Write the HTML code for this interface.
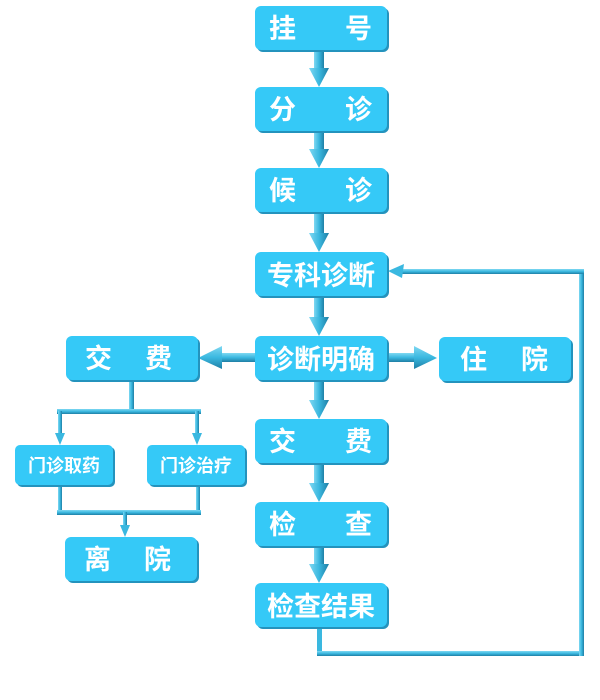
<!DOCTYPE html>
<html><head><meta charset="utf-8"><style>
html,body{margin:0;padding:0;background:#fff;}
svg{display:block}
text{font-family:"Liberation Sans","Noto Sans CJK SC",sans-serif;font-weight:bold;fill:#fff;}
</style></head><body>
<svg width="600" height="700" viewBox="0 0 600 700" xmlns="http://www.w3.org/2000/svg">
<defs>
<linearGradient id="sh" x1="0" x2="1"><stop offset="0" stop-color="#7fd8f2"/><stop offset="0.5" stop-color="#3ab8e0"/><stop offset="1" stop-color="#1f7fa5"/></linearGradient>
<linearGradient id="sv" x1="0" x2="0" y1="0" y2="1"><stop offset="0" stop-color="#7fd8f2"/><stop offset="0.5" stop-color="#3ab8e0"/><stop offset="1" stop-color="#1f7fa5"/></linearGradient>
</defs>
<g>
<rect x="314" y="50" width="10" height="24" fill="url(#sh)"/><polygon points="309,68 329,68 319,87" fill="url(#sh)"/>
<rect x="314" y="131" width="10" height="24" fill="url(#sh)"/><polygon points="309,149 329,149 319,168" fill="url(#sh)"/>
<rect x="314" y="212" width="10" height="27" fill="url(#sh)"/><polygon points="309,233 329,233 319,252" fill="url(#sh)"/>
<rect x="314" y="296" width="10" height="27" fill="url(#sh)"/><polygon points="309,317 329,317 319,336" fill="url(#sh)"/>
<rect x="314" y="380" width="10" height="26" fill="url(#sh)"/><polygon points="309,400 329,400 319,419" fill="url(#sh)"/>
<rect x="314" y="463" width="10" height="26" fill="url(#sh)"/><polygon points="309,483 329,483 319,502" fill="url(#sh)"/>
<rect x="314" y="546" width="10" height="24" fill="url(#sh)"/><polygon points="309,564 329,564 319,583" fill="url(#sh)"/>
</g>
<rect x="220" y="353" width="35" height="9" fill="url(#sv)"/><polygon points="198,358 222,346 222,369" fill="url(#sv)"/>
<rect x="387" y="353" width="30" height="9" fill="url(#sv)"/><polygon points="437,358 414,346 414,369" fill="url(#sv)"/>
<rect x="317" y="627" width="5" height="28" fill="#3ab8e0"/>
<rect x="317" y="651" width="267" height="5" fill="url(#sv)"/>
<rect x="579" y="269" width="5" height="387" fill="url(#sh)"/>
<rect x="400" y="269" width="184" height="5" fill="url(#sv)"/>
<polygon points="388,271 404,264 402,278" fill="#3ab8e0"/>
<rect x="129" y="380" width="5" height="31" fill="url(#sh)"/>
<rect x="57" y="409" width="144" height="5" fill="url(#sv)"/>
<rect x="58" y="411" width="4" height="24" fill="url(#sh)"/><polygon points="55,433 65,433 60,445" fill="#3ab8e0"/>
<rect x="195" y="411" width="4" height="24" fill="url(#sh)"/><polygon points="192,433 202,433 197,445" fill="#3ab8e0"/>
<rect x="58" y="485" width="4" height="27" fill="url(#sh)"/>
<rect x="196" y="485" width="4" height="27" fill="url(#sh)"/>
<rect x="57" y="510" width="144" height="5" fill="url(#sv)"/>
<rect x="123" y="512" width="4" height="15" fill="url(#sh)"/><polygon points="120,525 130,525 125,537" fill="#3ab8e0"/>
<g>
<g fill="#2493bd">
<rect x="257" y="8" width="132" height="44" rx="6"/><rect x="257" y="89" width="132" height="44" rx="6"/>
<rect x="257" y="170" width="132" height="44" rx="6"/><rect x="257" y="254" width="132" height="44" rx="6"/>
<rect x="257" y="338" width="132" height="44" rx="6"/><rect x="257" y="421" width="132" height="44" rx="6"/>
<rect x="257" y="504" width="132" height="44" rx="6"/><rect x="257" y="585" width="132" height="44" rx="6"/>
<rect x="441" y="339" width="132" height="44" rx="6"/><rect x="68" y="338" width="132" height="44" rx="6"/>
<rect x="17" y="447" width="98" height="40" rx="5"/><rect x="149" y="447" width="98" height="40" rx="5"/>
<rect x="67" y="539" width="132" height="44" rx="6"/>
</g>
<g fill="#35c9f7">
<rect x="255" y="6" width="132" height="44" rx="6"/><rect x="255" y="87" width="132" height="44" rx="6"/>
<rect x="255" y="168" width="132" height="44" rx="6"/><rect x="255" y="252" width="132" height="44" rx="6"/>
<rect x="255" y="336" width="132" height="44" rx="6"/><rect x="255" y="419" width="132" height="44" rx="6"/>
<rect x="255" y="502" width="132" height="44" rx="6"/><rect x="255" y="583" width="132" height="44" rx="6"/>
<rect x="439" y="337" width="132" height="44" rx="6"/><rect x="66" y="336" width="132" height="44" rx="6"/>
<rect x="15" y="445" width="98" height="40" rx="5"/><rect x="147" y="445" width="98" height="40" rx="5"/>
<rect x="65" y="537" width="132" height="44" rx="6"/>
</g>
</g>
<g font-size="27">
<text x="269" y="38">挂</text><text x="345" y="38">号</text>
<text x="269" y="119">分</text><text x="345" y="119">诊</text>
<text x="269" y="200">候</text><text x="345" y="200">诊</text>
<text x="321" y="285" text-anchor="middle">专科诊断</text>
<text x="321" y="369" text-anchor="middle">诊断明确</text>
<text x="269" y="451">交</text><text x="345" y="451">费</text>
<text x="269" y="534">检</text><text x="345" y="534">查</text>
<text x="321" y="616" text-anchor="middle">检查结果</text>
<text x="460" y="369">住</text><text x="521" y="369">院</text>
<text x="85" y="368">交</text><text x="145" y="368">费</text>
<text x="84" y="569">离</text><text x="144" y="569">院</text>
</g>
<g font-size="18">
<text x="64" y="472" text-anchor="middle">门诊取药</text>
<text x="196" y="472" text-anchor="middle">门诊治疗</text>
</g>
</svg>
</body></html>
